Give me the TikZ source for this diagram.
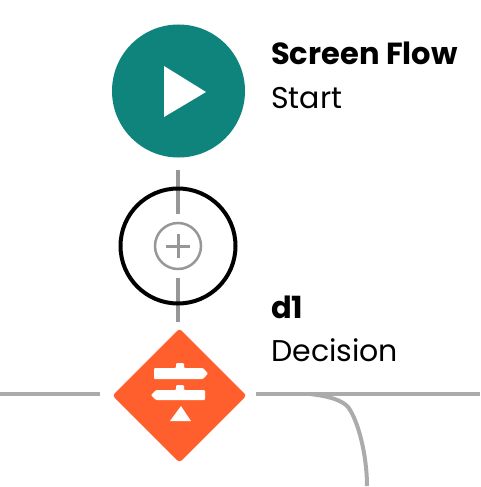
\documentclass[tikz,border=0pt]{standalone}
\usepackage{fontspec}
\setmainfont{Poppins}
\usetikzlibrary{shapes.geometric}
\definecolor{startteal}{HTML}{0F847C}
\definecolor{decorange}{HTML}{FF5F2D}
\definecolor{linegray}{HTML}{ABABAB}
\definecolor{addgray}{HTML}{979797}
\tikzset{
	main/.style = {draw=none, inner sep=0pt, outer sep=0pt},
	conn/.style = {draw=linegray, line width=4pt},
	stub/.style = {draw=addgray, line width=4pt},
	title/.style = {anchor=base west, inner sep=0pt, font=\fontsize{30.5}{32}\selectfont\bfseries},
	sub/.style = {anchor=base west, inner sep=0pt, font=\fontsize{30}{32}\selectfont},
}
\begin{document}
\begin{tikzpicture}[x=1pt, y=-1pt]
	\useasboundingbox (0,0) rectangle (480,487);

	\coordinate (s1) at (178,170);
	\coordinate (s2) at (178,214);
	\coordinate (s3) at (178,278);
	\coordinate (s4) at (178,322);
	\coordinate (w) at (0,394);
	\coordinate (wend) at (100,394);
	\coordinate (e) at (256,394);
	\coordinate (eend) at (480,394);
	\coordinate (bstart) at (310,394);
	\coordinate (bend) at (367,486);

	\draw[stub] (s1)--(s2);
	\draw[stub] (s3)--(s4);

	\node[main, circle, fill=startteal, minimum size=133pt] (start) at (178.5,91) {};
	\node[main, circle, draw=black, line width=4pt, minimum size=115pt] (ring) at (178,246) {};
	\node[main, circle, draw=addgray, line width=2.5pt, minimum size=46pt] (plus) at (178,246) {};
	\node[main, diamond, aspect=1, fill=decorange, minimum size=134pt, rounded corners=3pt] (dec) at (179.5,395.5) {};

	% play mark
	\fill[white] (164,66)--(206,92)--(164,117)--cycle;
	% plus mark
	\draw[addgray, line width=3pt] (166,246)--(190,246);
	\draw[addgray, line width=3pt] (178,234)--(178,258);
	% signpost
	\fill[white, rounded corners=1pt] (154,368)--(176,368)--(176,363)--(184,363)--(184,368)--(203,368)--(208,373.5)--(203,379)--(154,379)--cycle;
	\fill[white, rounded corners=1pt] (205,390)--(184,390)--(184,385)--(176,385)--(176,390)--(156,390)--(151,395)--(156,400)--(205,400)--cycle;
	\fill[white] (181,406)--(191,421)--(170,421)--cycle;

	\draw[conn] (w)--(wend);
	\draw[conn] (e)--(eend);
	\draw[conn] (bstart) .. controls (328,396) and (342,400) .. (348,407) .. controls (358,420) and (367,455) .. (bend);

	\node[title] (name1) at (271,65) {Screen Flow};
	\node[sub] (type1) at (271,108) {Start};
	\node[title] (name2) at (271,318) {d1};
	\node[sub] (type2) at (271,361) {Decision};
\end{tikzpicture}
\end{document}
